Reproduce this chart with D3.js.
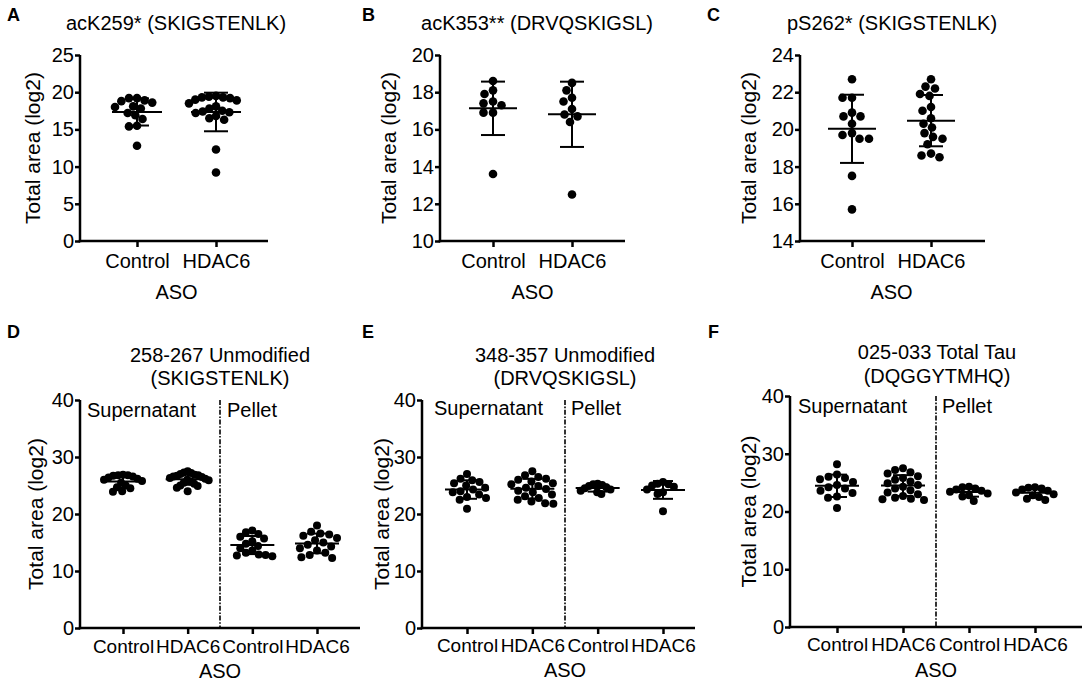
<!DOCTYPE html>
<html><head><meta charset="utf-8">
<script src="https://cdn.jsdelivr.net/npm/d3@7"></script>
<style>
body{margin:0;background:#fff}
svg{display:block}
text{font-family:"Liberation Sans",Arial,Helvetica,sans-serif;fill:#000}
</style>
</head><body>
<svg id="c" width="1084" height="691"></svg>
<script>
// ---------- tick labels / categories ----------
const labelsTop = ["Control", "HDAC6"];
const labelsBottom = ["Control", "HDAC6", "Control", "HDAC6"];
const ticksA = [0, 5, 10, 15, 20, 25];
const ticksB = [10, 12, 14, 16, 18, 20];
const ticksC = [14, 16, 18, 20, 22, 24];
const ticksDEF = [0, 10, 20, 30, 40];

// ---------- values (log2 total area) ----------
// A: acK259*
const acK259Control = [19.2, 19.2, 18.9, 18.8, 18.6, 18.1, 18.0, 17.8, 16.9, 16.4, 15.5, 15.4, 12.8, 17.2];
const acK259HDAC6   = [19.5, 19.4, 19.3, 19.3, 19.2, 19.0, 18.9, 18.5, 18.1, 17.8, 17.5, 17.4, 17.3, 17.2, 16.8, 16.5, 16.3, 12.3, 9.2];
// B: acK353**
const acK353Control = [18.6, 18.1, 17.9, 17.5, 17.4, 17.3, 16.9, 16.9, 13.6];
const acK353HDAC6   = [18.5, 18.1, 17.7, 17.5, 17.1, 16.8, 16.7, 16.4, 12.5];
// C: pS262*
const pS262Control  = [22.7, 21.7, 21.7, 20.9, 20.7, 20.7, 20.3, 19.8, 19.7, 19.5, 19.5, 17.5, 15.7];
const pS262HDAC6    = [22.7, 22.3, 22.2, 21.9, 21.8, 21.2, 21.0, 20.6, 20.3, 20.1, 19.8, 19.6, 19.5, 19.2, 18.7, 18.6, 18.5];
// D: 258-267 unmodified
const u258SupControl = [26.9, 26.8, 26.8, 26.7, 26.6, 26.4, 26.2, 26.0, 25.8, 25.5, 25.0, 24.7, 24.5, 24.0, 23.9];
const u258SupHDAC6   = [27.5, 27.3, 27.2, 27.0, 26.9, 26.8, 26.7, 26.6, 26.5, 26.3, 26.2, 26.0, 25.9, 25.7, 25.5, 25.3, 25.0, 24.9, 24.6, 24.0];
const u258PelControl = [17.1, 16.8, 16.5, 16.0, 15.7, 15.2, 14.8, 14.4, 14.0, 13.6, 13.2, 12.9, 12.8, 12.7, 12.6];
const u258PelHDAC6   = [18.0, 16.9, 16.6, 16.4, 16.2, 15.8, 15.4, 15.0, 14.6, 14.3, 14.0, 13.6, 13.2, 12.8, 12.4, 12.3];
// E: 348-357 unmodified
const u348SupControl = [27.0, 26.2, 25.9, 25.6, 25.4, 25.0, 24.6, 24.3, 24.0, 23.8, 23.4, 23.0, 22.8, 22.5, 20.9];
const u348SupHDAC6   = [27.5, 26.8, 26.5, 26.2, 26.0, 25.7, 25.4, 25.2, 24.9, 24.6, 24.4, 24.1, 23.8, 23.4, 23.1, 22.8, 22.5, 22.2, 21.9, 21.8];
const u348PelControl = [25.3, 25.2, 25.1, 24.9, 24.7, 24.5, 24.3, 24.1, 23.8, 23.5];
const u348PelHDAC6   = [25.6, 25.3, 25.2, 25.0, 24.8, 24.3, 23.8, 23.5, 20.5];
// F: 025-033 total tau
const t025SupControl = [28.2, 26.4, 26.0, 25.8, 25.6, 25.1, 24.6, 24.2, 24.0, 23.6, 23.2, 22.6, 22.4, 20.6];
const t025SupHDAC6   = [27.5, 27.2, 26.8, 26.6, 26.1, 25.8, 25.5, 25.2, 24.9, 24.6, 24.3, 24.0, 23.7, 23.3, 23.0, 22.7, 22.4, 22.2, 22.1, 22.0];
const t025PelControl = [24.3, 24.2, 24.0, 23.8, 23.6, 23.4, 23.1, 22.8, 22.6, 21.8];
const t025PelHDAC6   = [24.2, 24.1, 24.0, 23.8, 23.6, 23.3, 23.0, 22.8, 22.5, 22.2, 22.0];

// ---------- panel layout ----------
const panels = [
  {letter:"A", lx:7, ly:21, title:["acK259* (SKIGSTENLK)"], tx:176, ty:[30],
   x0:80, x1:268, padL:57, padR:52, yTop:55, yBot:241, domain:[0,25], ticks:ticksA,
   labels:labelsTop, series:[acK259Control, acK259HDAC6], ylx:40, xPad:7, asoY:299,
   r:4.3, mw:25, cw:12, half:[22, 27], xfs:20},
  {letter:"B", lx:362, ly:21, title:["acK353** (DRVQSKIGSL)"], tx:537, ty:[30],
   x0:440, x1:625, padL:53, padR:53, yTop:55, yBot:241, domain:[10,20], ticks:ticksB,
   labels:labelsTop, series:[acK353Control, acK353HDAC6], ylx:396, xPad:7, asoY:299,
   r:4.3, mw:24, cw:12, half:[21, 21], xfs:20},
  {letter:"C", lx:707, ly:21, title:["pS262* (SKIGSTENLK)"], tx:892, ty:[30],
   x0:800, x1:985, padL:52, padR:54, yTop:55, yBot:241, domain:[14,24], ticks:ticksC,
   labels:labelsTop, series:[pS262Control, pS262HDAC6], ylx:756, xPad:7, asoY:299,
   r:4.3, mw:24, cw:12, half:[18, 20], xfs:20},
  {letter:"D", lx:7, ly:338, title:["258-267 Unmodified","(SKIGSTENLK)"], tx:220, ty:[362,385],
   x0:80, x1:360, padL:43, padR:43, yTop:400, yBot:628, domain:[0,40], ticks:ticksDEF,
   labels:labelsBottom, series:[u258SupControl, u258SupHDAC6, u258PelControl, u258PelHDAC6],
   ylx:43, xPad:6, asoY:678, r:4, mw:22, cw:10, half:[19, 21, 20, 20], xfs:19, supX:87, pelDx:7, fracY:417},
  {letter:"E", lx:362, ly:338, title:["348-357 Unmodified","(DRVQSKIGSL)"], tx:565, ty:[362,385],
   x0:422, x1:695, padL:45, padR:32, yTop:400, yBot:628, domain:[0,40], ticks:ticksDEF,
   labels:labelsBottom, series:[u348SupControl, u348SupHDAC6, u348PelControl, u348PelHDAC6],
   ylx:389, xPad:5, asoY:677, r:4, mw:22, cw:10, half:[19, 21, 17, 16], xfs:19, supX:434, pelDx:6, fracY:415},
  {letter:"F", lx:708, ly:338, title:["025-033 Total Tau","(DQGGYTMHQ)"], tx:937, ty:[359,383],
   x0:790, x1:1082, padL:47, padR:47, yTop:396, yBot:627, domain:[0,40], ticks:ticksDEF,
   labels:labelsBottom, series:[t025SupControl, t025SupHDAC6, t025PelControl, t025PelHDAC6],
   ylx:756, xPad:5, asoY:677, r:4, mw:22, cw:10, half:[20, 21, 19, 19], xfs:19, supX:798, pelDx:6, fracY:413}
];

const svg = d3.select("#c");
const FS = 20;

// beeswarm layout, then squeezed to the panel's cluster half-width (points may overlap, as in Prism)
function swarm(vals, y, r, maxHalf) {
  const order = vals.map((v, i) => i).sort((a, b) => vals[b] - vals[a]);
  const placed = [];
  const out = new Array(vals.length);
  const minD = 2 * r + 0.6;
  order.forEach(i => {
    const yy = y(vals[i]);
    let off = 0;
    for (let s = 0; s < 600; s++) {
      const o = (s % 2 === 0 ? 1 : -1) * Math.ceil(s / 2) * 0.5;
      const ok = placed.every(p => (p.dx - o) ** 2 + (p.y - yy) ** 2 >= minD * minD);
      if (ok) { off = o; break; }
    }
    placed.push({dx: off, y: yy});
    out[i] = {dx: off, y: yy};
  });
  const m = d3.max(out, d => Math.abs(d.dx)) || 1;
  if (m > maxHalf) out.forEach(d => d.dx *= maxHalf / m);
  return out;
}

panels.forEach(p => {
  const g = svg.append("g");
  const idx = d3.range(p.labels.length);
  const x = d3.scalePoint().domain(idx).range([p.x0 + p.padL, p.x1 - p.padR]);
  const y = d3.scaleLinear().domain(p.domain).range([p.yBot, p.yTop]);

  g.append("text").attr("x", p.lx).attr("y", p.ly).attr("font-size", 18).attr("font-weight", "bold").text(p.letter);
  p.title.forEach((t, k) => g.append("text").attr("x", p.tx).attr("y", p.ty[k])
    .attr("text-anchor", "middle").attr("font-size", FS).text(t));

  const ya = g.append("g").attr("transform", `translate(${p.x0},0)`)
    .call(d3.axisLeft(y).tickValues(p.ticks).tickSize(5).tickPadding(1).tickSizeOuter(0));
  ya.select(".domain").attr("stroke-width", 2.5).attr("d", `M0,${p.yTop}V${p.yBot + 1.25}`);
  ya.selectAll(".tick line").attr("stroke-width", 2.5);
  ya.selectAll("text").attr("font-size", FS).attr("font-family", null);

  const xa = g.append("g").attr("transform", `translate(0,${p.yBot})`)
    .call(d3.axisBottom(x).tickSize(6).tickPadding(p.xPad).tickFormat(i => p.labels[i]));
  xa.select(".domain").attr("stroke-width", 2.5).attr("d", `M${p.x0 - 1.25},0H${p.x1}`);
  xa.selectAll(".tick line").attr("stroke-width", 2.5);
  xa.selectAll("text").attr("font-size", p.xfs).attr("font-family", null);

  g.append("text").attr("transform", `translate(${p.ylx},${(p.yTop + p.yBot) / 2}) rotate(-90)`)
    .attr("text-anchor", "middle").attr("font-size", 21).text("Total area (log2)");
  g.append("text").attr("x", (x(0) + x(idx.length - 1)) / 2).attr("y", p.asoY)
    .attr("text-anchor", "middle").attr("font-size", FS).text("ASO");

  if (p.labels.length === 4) {
    const xm = (x(1) + x(2)) / 2;
    g.append("line").attr("x1", xm).attr("x2", xm).attr("y1", p.yTop).attr("y2", p.yBot)
      .attr("stroke", "#000").attr("stroke-width", 1.6).attr("stroke-dasharray", "5,1.6,1.6,1.6");
    g.append("text").attr("x", p.supX).attr("y", p.fracY).attr("font-size", FS).text("Supernatant");
    g.append("text").attr("x", xm + p.pelDx).attr("y", p.fracY).attr("font-size", FS).text("Pellet");
  }

  p.series.forEach((vals, k) => {
    const cx = x(k);
    const pos = swarm(vals, y, p.r, p.half[k]);
    g.append("g").selectAll("circle").data(pos).join("circle")
      .attr("cx", d => cx + d.dx).attr("cy", d => d.y).attr("r", p.r).attr("fill", "#000");
    const m = d3.mean(vals), sd = d3.deviation(vals);
    const eb = g.append("g").attr("stroke", "#000").attr("stroke-width", 2).attr("fill", "none");
    eb.append("line").attr("x1", cx - p.mw).attr("x2", cx + p.mw).attr("y1", y(m)).attr("y2", y(m));
    eb.append("line").attr("x1", cx).attr("x2", cx).attr("y1", y(m + sd)).attr("y2", y(m - sd));
    eb.append("line").attr("x1", cx - p.cw).attr("x2", cx + p.cw).attr("y1", y(m + sd)).attr("y2", y(m + sd));
    eb.append("line").attr("x1", cx - p.cw).attr("x2", cx + p.cw).attr("y1", y(m - sd)).attr("y2", y(m - sd));
  });
});
</script>
</body></html>
